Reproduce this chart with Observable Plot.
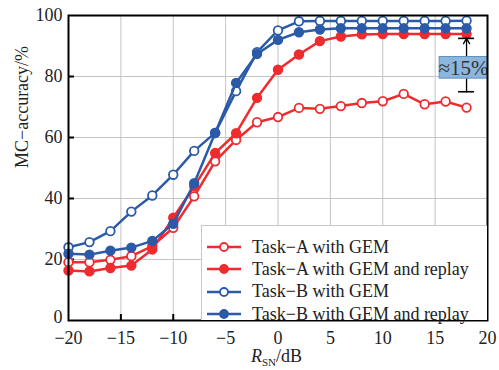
<!DOCTYPE html>
<html>
<head>
<meta charset="utf-8">
<script src="https://cdn.jsdelivr.net/npm/d3@7"></script>
<script src="https://cdn.jsdelivr.net/npm/@observablehq/plot@0.6"></script>
<style>
  body { margin: 0; background: #fff; }
  #wrap { position: relative; width: 499px; height: 370px; font-family: "Liberation Serif", "Times New Roman", serif; }
  #legend { position: absolute; left: 201px; top: 225px; width: 286px; height: 95px; background: #fff; border-left: 1px solid #c8c8c8; border-top: 1px solid #c8c8c8; box-sizing: border-box; padding-top: 10px; }
  .row { display: flex; align-items: center; height: 22.3px; font-size: 18px; color: #222; }
  .row svg { margin-left: 4px; margin-right: 10px; }
</style>
</head>
<body>
<div id="wrap"></div>
<script>
// ---- data ----
const snr = [-20, -18, -16, -14, -12, -10, -8, -6, -4, -2, 0, 2, 4, 6, 8, 10, 12, 14, 16, 18];
const taskA       = [19.1, 19.1, 19.9, 21.1, 24.4, 30.4, 40.7, 52.2, 59.2, 65.0, 66.7, 69.7, 69.4, 70.3, 71.3, 71.9, 74.3, 70.9, 71.8, 69.8];
const taskAReplay = [16.4, 16.1, 17.2, 18.0, 23.3, 33.7, 44.0, 54.9, 61.4, 73.0, 82.2, 87.2, 91.6, 93.1, 93.8, 93.9, 93.9, 93.9, 93.9, 93.9];
const taskB       = [24.0, 25.7, 29.3, 35.7, 41.0, 47.8, 55.6, 61.5, 75.2, 88.0, 95.1, 98.1, 98.2, 98.2, 98.2, 98.2, 98.2, 98.2, 98.2, 98.3];
const taskBReplay = [21.9, 21.6, 22.9, 23.9, 26.1, 31.7, 45.0, 61.5, 77.9, 87.4, 92.0, 94.5, 95.4, 95.8, 95.8, 95.8, 95.8, 95.8, 95.8, 95.8];
const seriesNames = ["Task−A with GEM", "Task−A with GEM and replay", "Task−B with GEM", "Task−B with GEM and replay"];
const xTicks = [-20, -15, -10, -5, 0, 5, 10, 15, 20];
const yTicks = [0, 20, 40, 60, 80, 100];
const annotX = 18, annotLow = 75.0, annotHigh = 92.5;
const annotText = "≈15%";
const yLabel = "MC−accuracy/%";

// ---- styles ----
const RED = "#ef2b30", BLUE = "#2a5aa8";
const seriesStyle = [
  {color: RED, filled: false},
  {color: RED, filled: true},
  {color: BLUE, filled: false},
  {color: BLUE, filled: true}
];
const seriesValues = [taskA, taskAReplay, taskB, taskBReplay];
const rows = [];
seriesValues.forEach((vals, i) => vals.forEach((v, j) => rows.push({x: snr[j], y: v, s: seriesNames[i], i})));

const serif = "Liberation Serif, Times New Roman, serif";
const interior = xTicks.slice(1, -1);
const yInterior = yTicks.slice(1, -1);

const marks = [
  Plot.gridX(interior, {stroke: "#c4c4c4", strokeOpacity: 1, strokeWidth: 1}),
  Plot.gridY(yInterior, {stroke: "#c4c4c4", strokeOpacity: 1, strokeWidth: 1}),
  Plot.axisX(xTicks, {tickSize: 0, tickPadding: 11, fontSize: 18, fill: "#222", label: null, tickFormat: d3.format("d")}),
  Plot.axisY(yTicks.slice(1), {tickSize: 0, tickPadding: 6, fontSize: 18, fill: "#222", label: null, tickFormat: d3.format("d")}),
  Plot.axisY(yTicks.slice(0, 1), {tickSize: 0, tickPadding: 6, dy: -3, fontSize: 18, fill: "#222", label: null, tickFormat: d3.format("d")}),
  Plot.axisX(interior, {tickSize: 6, dy: -6, strokeWidth: 2, stroke: "black", tickFormat: () => "", label: null}),
  Plot.axisY(yInterior, {tickSize: 6, dx: 6, strokeWidth: 2, stroke: "black", tickFormat: () => "", label: null}),
  Plot.text([yLabel], {frameAnchor: "left", rotate: -90, dx: -46, fontSize: 18, fill: "#222"})
];
seriesValues.forEach((vals, i) => {
  const d = rows.filter(r => r.i === i);
  const st = seriesStyle[i];
  marks.push(Plot.line(d, {x: "x", y: "y", stroke: st.color, strokeWidth: 2.5}));
  marks.push(Plot.dot(d, {x: "x", y: "y", r: 4.3, stroke: st.color, strokeWidth: 1.8, fill: st.filled ? st.color : "white"}));
});
// annotation bracket
marks.push(Plot.ruleY([annotLow, annotHigh], {y: d => d, x1: annotX - 0.76, x2: annotX + 0.76, stroke: "black", strokeWidth: 1.6}));
marks.push(Plot.arrow([{x: annotX, y1: annotLow, y2: annotHigh}], {x1: "x", x2: "x", y1: "y1", y2: "y2", stroke: "black", strokeWidth: 1.3, headLength: 7, bend: 0}));
marks.push(Plot.rect([{x1: annotX - 2.57, x2: annotX + 2.05, y1: 79.3, y2: 86.4}], {x1: "x1", x2: "x2", y1: "y1", y2: "y2", fill: "#8cb6dc", stroke: "#5f8fbf", strokeWidth: 1, clip: false}));
marks.push(Plot.text([annotText], {x: annotX - 0.3, y: 82.8, fontSize: 21, fill: "#333", fontFamily: serif}));
marks.push(Plot.frame({stroke: "black", strokeWidth: 2}));

const chart = Plot.plot({
  width: 499,
  height: 370,
  marginLeft: 68,
  marginRight: 12,
  marginTop: 15,
  marginBottom: 50,
  style: {fontFamily: serif, fontSize: "18px", background: "white", overflow: "visible"},
  x: {domain: [-20, 20]},
  y: {domain: [0, 100]},
  marks
});
const wrap = document.getElementById("wrap");
wrap.appendChild(chart);

// legend overlay
const leg = document.createElement("div");
leg.id = "legend";
seriesNames.forEach((name, i) => {
  const st = seriesStyle[i];
  const row = document.createElement("div");
  row.className = "row";
  const sw = d3.create("svg").attr("width", 36).attr("height", 12);
  sw.append("line").attr("x1", 1).attr("x2", 35).attr("y1", 6).attr("y2", 6).attr("stroke", st.color).attr("stroke-width", 2.5);
  sw.append("circle").attr("cx", 18).attr("cy", 6).attr("r", 4).attr("stroke", st.color).attr("stroke-width", 1.8).attr("fill", st.filled ? st.color : "white");
  row.appendChild(sw.node());
  const t = document.createElement("span");
  t.textContent = name;
  row.appendChild(t);
  leg.appendChild(row);
});
wrap.appendChild(leg);

// x label with subscript
const xl = document.createElement("div");
xl.style.cssText = "position:absolute;left:251px;top:347px;font-size:18px;line-height:18px;color:#222;white-space:nowrap;";
xl.innerHTML = '<i>R</i><sub style="font-size:11px;vertical-align:-4px;line-height:0;">SN</sub>/dB';
wrap.appendChild(xl);
</script>
</body>
</html>
